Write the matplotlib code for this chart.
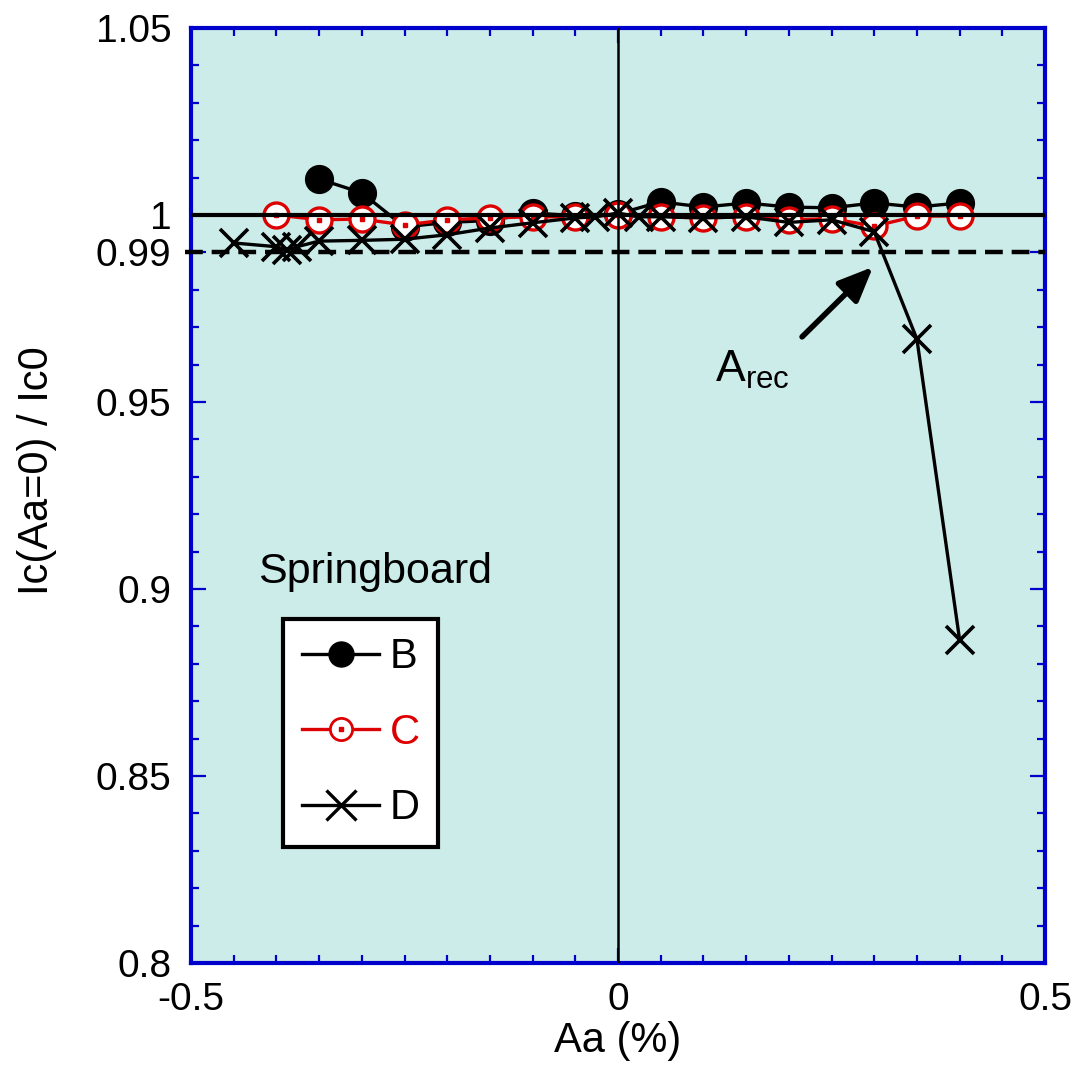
import numpy as np
import matplotlib
matplotlib.use("Agg")
from matplotlib import pyplot as plt
from matplotlib.lines import Line2D

plt.rcParams['font.family'] = ['Liberation Sans', 'DejaVu Sans']

# strain sweep, normalised critical current
B_x = [-0.35, -0.3, -0.25, -0.2, -0.15, -0.1, -0.05, 0, 0.05, 0.1, 0.15, 0.2, 0.25, 0.3, 0.35, 0.4]
B_y = [1.0096, 1.0059, 0.9968, 0.998, 0.9985, 1.0005, 0.9998, 1.0003,
       1.0035, 1.0021, 1.0032, 1.0021, 1.0019, 1.0032, 1.0021, 1.0032]

C_x = [-0.4, -0.35, -0.3, -0.25, -0.2, -0.15, -0.1, -0.05, 0,
       0.05, 0.1, 0.15, 0.2, 0.25, 0.3, 0.35, 0.4]
C_y = [1.0, 0.9987, 0.9989, 0.9973, 0.9987, 0.9992, 0.9995, 0.9995, 1.0,
       0.9995, 0.9992, 0.9995, 0.9987, 0.999, 0.997, 0.9997, 0.9997]

D_x = [-0.45, -0.4, -0.388, -0.376, -0.35, -0.3, -0.25, -0.2, -0.15, -0.1, -0.05, -0.027, 0,
       0.024, 0.05, 0.1, 0.15, 0.2, 0.25, 0.3, 0.35, 0.4]
D_y = [0.9925, 0.9915, 0.9905, 0.9915, 0.993, 0.9932, 0.9935, 0.9947, 0.9965, 0.9979, 0.9992, 0.9995, 1.0005,
       0.9995, 0.9995, 0.9992, 0.9995, 0.998, 0.9987, 0.9955, 0.9668, 0.8864]

y_ticks = [0.8, 0.85, 0.9, 0.95, 0.99, 1.0, 1.05]
y_labels = ['0.8', '0.85', '0.9', '0.95', '0.99', '1', '1.05']
x_ticks = [-0.5, 0, 0.5]
x_labels = ['-0.5', '0', '0.5']

BLUE = '#0000CC'
RED = '#DD0000'
FS_TICK = 28
FS = 30

fig = plt.figure(figsize=(10.75, 10.73), dpi=100)
ax = fig.add_axes([0.1777, 0.1025, 0.7944, 0.8715])
ax.set_facecolor('#CCECE9')

ax.plot(B_x, B_y, '-', color='black', lw=2.4, marker='o', ms=20,
        mfc='black', mec='black', zorder=3)
ax.plot(C_x, C_y, '-', color=RED, lw=2.4, marker='o', ms=18,
        mfc='white', mec=RED, mew=2.4, zorder=4)
ax.plot(C_x, C_y, ls='none', marker='s', ms=3, color=RED, zorder=4)
ax.plot(D_x, D_y, '-', color='black', lw=2.4, marker='x', ms=20,
        mew=2.6, zorder=5)

# reference lines
ax.axhline(1.0, color='black', lw=3, zorder=6)
ax.plot([-0.507, 0.5], [0.99, 0.99], color='black', lw=3.2, ls=(0, (4, 2)),
        zorder=6, clip_on=False)
ax.axvline(0, color='black', lw=1.8, zorder=6)

ax.annotate('', xy=(0.2986, 0.9861), xytext=(0.2155, 0.9674),
            arrowprops=dict(arrowstyle='-|>,head_length=0.7,head_width=0.3',
                            lw=4, color='black', mutation_scale=30, shrinkA=0, shrinkB=0),
            zorder=7)
ax.text(0.114, 0.9585, r'A$_{\mathregular{rec}}$', fontsize=32, ha='left', va='center')
ax.text(-0.422, 0.9045, 'Springboard', fontsize=31, ha='left', va='center')

ax.set_xlim(-0.5, 0.5)
ax.set_ylim(0.8, 1.05)
ax.set_xticks(x_ticks)
ax.set_xticklabels(x_labels)
ax.set_yticks(y_ticks)
ax.set_yticklabels(y_labels)
ax.set_xticks(np.arange(-0.45, 0.46, 0.05), minor=True)
ax.set_yticks(np.arange(0.81, 1.045, 0.01), minor=True)
ax.tick_params(which='both', direction='in', top=True, right=True, color=BLUE,
               labelsize=FS_TICK, pad=14)
ax.tick_params(which='major', length=11, width=1.6)
ax.tick_params(which='minor', length=6, width=1.6)
for s in ax.spines.values():
    s.set_color(BLUE)
    s.set_linewidth(3)

ax.set_xlabel('Aa (%)', fontsize=FS, labelpad=2)
ax.set_ylabel('Ic(Aa=0) / Ic0', fontsize=FS)
ax.yaxis.set_label_coords(-0.157, 0.527)

h_b = Line2D([], [], color='black', lw=2.4, marker='o', ms=18, mfc='black', mec='black')
h_c = (Line2D([], [], color=RED, lw=2.4, marker='o', ms=16, mfc='white', mec=RED, mew=2),
       Line2D([], [], ls='none', marker='s', ms=3, color=RED))
h_d = Line2D([], [], color='black', lw=2.4, marker='x', ms=21, mew=2.4)
leg = ax.legend([h_b, h_c, h_d], ['B', 'C', 'D'], loc='lower left',
                bbox_to_anchor=(0.108, 0.124), fontsize=FS, frameon=True,
                fancybox=False, edgecolor='black', facecolor='white', framealpha=1,
                handlelength=1.85, handletextpad=0.25, labelspacing=0.85,
                borderpad=0.45, borderaxespad=0)
leg.get_frame().set_linewidth(3)
leg.set_zorder(8)
for t, c in zip(leg.get_texts(), ['black', RED, 'black']):
    t.set_color(c)

fig.savefig('out.png', dpi=100)
